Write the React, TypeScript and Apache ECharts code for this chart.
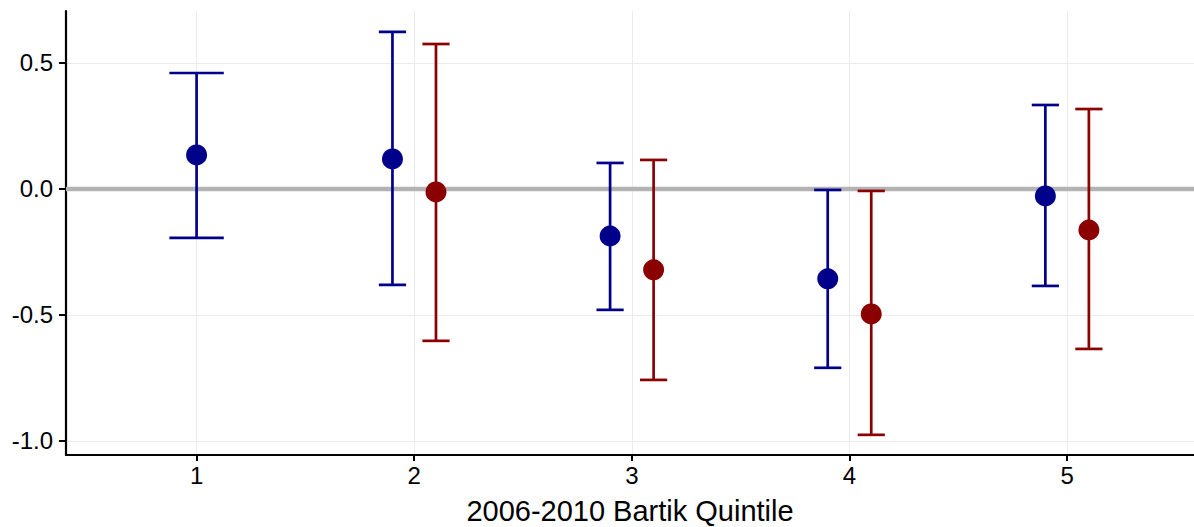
import React, { useEffect, useRef } from "react";
import * as echarts from "echarts";

const quintiles = [1, 2, 3, 4, 5];
const blueEst = [0.135, 0.119, -0.187, -0.357, -0.028];
const blueLo = [-0.194, -0.381, -0.48, -0.71, -0.385];
const blueHi = [0.46, 0.623, 0.103, -0.004, 0.333];
const redEst = [null, -0.012, -0.321, -0.496, -0.163];
const redLo = [null, -0.603, -0.758, -0.976, -0.635];
const redHi = [null, 0.575, 0.115, -0.008, 0.317];
const xTicks = [1, 2, 3, 4, 5];
const yTicks = [-1.0, -0.5, 0.0, 0.5];
const xTitle = "2006-2010 Bartik Quintile";
const X_MIN = 0.4;
const X_MAX = 5.583;
const Y_MIN = -1.056;
const Y_MAX = 0.706;

const BLUE = "#00008B";
const RED = "#8B0000";
const DODGE = 0.1;
const CAP_FULL = 0.125;
const LW = 2.7;

function buildRows(est: (number | null)[], lo: (number | null)[], hi: (number | null)[], other: (number | null)[], sign: number) {
  const rows: number[][] = [];
  quintiles.forEach((q, i) => {
    if (est[i] == null) return;
    const single = other[i] == null;
    const x = single ? q : q + sign * DODGE;
    const half = single ? CAP_FULL : CAP_FULL / 2;
    rows.push([x, est[i] as number, lo[i] as number, hi[i] as number, half]);
  });
  return rows;
}

export default function App() {
  const ref = useRef<HTMLDivElement>(null);
  useEffect(() => {
    const chart = echarts.init(ref.current!, null, { renderer: "svg" });
    const blueRows = buildRows(blueEst, blueLo, blueHi, redEst, -1);
    const redRows = buildRows(redEst, redLo, redHi, blueEst, 1);

    const errRender = (color: string) => (params: any, api: any) => {
      const x = api.value(0);
      const lo = api.value(2);
      const hi = api.value(3);
      const half = api.value(4);
      const pLo = api.coord([x, lo]);
      const pHi = api.coord([x, hi]);
      const cL = api.coord([x - half, hi]);
      const cR = api.coord([x + half, hi]);
      const style = { fill: color, stroke: null, lineWidth: 0 };
      return {
        type: "group",
        children: [
          { type: "rect", shape: { x: pHi[0] - LW / 2, y: pHi[1], width: LW, height: pLo[1] - pHi[1] }, style },
          { type: "rect", shape: { x: cL[0], y: pHi[1] - LW / 2, width: cR[0] - cL[0], height: LW }, style },
          { type: "rect", shape: { x: cL[0], y: pLo[1] - LW / 2, width: cR[0] - cL[0], height: LW }, style },
        ],
      };
    };

    const zeroRender = (params: any, api: any) => {
      const a = api.coord([X_MIN, 0]);
      const b = api.coord([X_MAX, 0]);
      return {
        type: "rect",
        shape: { x: a[0], y: a[1] - 2.25, width: b[0] - a[0], height: 4.5 },
        style: { fill: "#b3b3b3", stroke: null },
      };
    };

    const font = "'Liberation Sans', Arial, Helvetica, sans-serif";

    chart.setOption({
      animation: false,
      grid: { left: 66, right: 0, top: 11, bottom: 72, outerBoundsMode: "none" } as any,
      xAxis: {
        type: "value",
        min: X_MIN,
        max: X_MAX,
        name: xTitle,
        nameLocation: "middle",
        nameGap: 41,
        nameTextStyle: { fontSize: 29, color: "#000", fontFamily: font, lineHeight: 29, verticalAlign: "top" },
        axisLine: { show: true, onZero: false, lineStyle: { color: "#000", width: 2.2 } },
        axisTick: { show: true, customValues: xTicks, length: 6, lineStyle: { color: "#000", width: 2 } },
        axisLabel: { customValues: xTicks, fontSize: 24, color: "#000", fontFamily: font, margin: 8 },
        splitLine: { show: true, lineStyle: { color: "#ebebeb", width: 1 } },
      },
      yAxis: {
        type: "value",
        min: Y_MIN,
        max: Y_MAX,
        axisLine: { show: true, onZero: false, lineStyle: { color: "#000", width: 2.2 } },
        axisTick: { show: true, customValues: yTicks, length: 7, lineStyle: { color: "#000", width: 2 } },
        axisLabel: {
          customValues: yTicks,
          fontSize: 24,
          color: "#000",
          fontFamily: font,
          margin: 13,
          formatter: (v: number) => v.toFixed(1),
        },
        splitLine: { show: true, lineStyle: { color: "#ebebeb", width: 1 } },
      },
      series: [
        { type: "custom", z: 2, silent: true, renderItem: zeroRender, data: [[X_MIN, 0]] },
        { type: "custom", z: 3, silent: true, renderItem: errRender(BLUE), data: blueRows, encode: { x: 0, y: [2, 3] } },
        { type: "custom", z: 3, silent: true, renderItem: errRender(RED), data: redRows, encode: { x: 0, y: [2, 3] } },
        {
          type: "scatter",
          z: 4,
          symbolSize: 21,
          itemStyle: { color: BLUE, opacity: 1, borderWidth: 0 },
          data: blueRows.map((r) => [r[0], r[1]]),
        },
        {
          type: "scatter",
          z: 4,
          symbolSize: 21,
          itemStyle: { color: RED, opacity: 1, borderWidth: 0 },
          data: redRows.map((r) => [r[0], r[1]]),
        },
      ],
    });
    return () => chart.dispose();
  }, []);
  return <div ref={ref} style={{ position: "absolute", left: 0, top: 0, width: 1194, height: 527 }} />;
}
